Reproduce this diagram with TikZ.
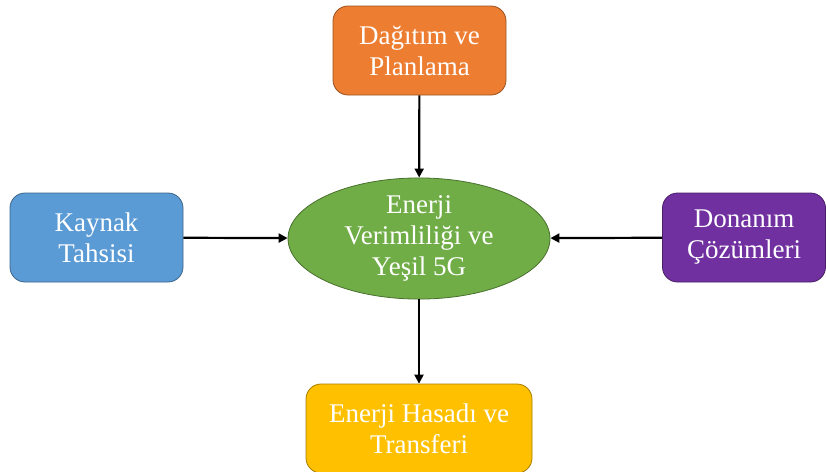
\documentclass[tikz,border=0pt]{standalone}
\usepackage{fontspec}
\setmainfont{Liberation Serif}
\usetikzlibrary{shapes.geometric,arrows.meta}
\definecolor{corange}{HTML}{ED7D31}
\definecolor{cgreen}{HTML}{70AD47}
\definecolor{cblue}{HTML}{5B9BD5}
\definecolor{cpurple}{HTML}{7030A0}
\definecolor{cgold}{HTML}{FFC000}
\tikzset{
  box/.style={rounded corners=15pt, draw=#1!65!black, fill=#1, line width=0.8pt,
    text=white, align=center, inner sep=0pt, minimum width=173pt, minimum height=89pt,
    font=\fontsize{27}{31}\selectfont},
  oval/.style={ellipse, draw=#1!65!black, fill=#1, line width=0.8pt,
    text=white, align=center, inner sep=0pt, minimum width=262pt, minimum height=117pt,
    font=\fontsize{27}{31}\selectfont},
  conn/.style={line width=2.2pt, -{Triangle[length=9pt,width=9pt]}}
}
\begin{document}
\begin{tikzpicture}[x=1pt,y=-1pt]
\useasboundingbox (0,0) rectangle (826,471);
\begin{scope}
\clip (0,0) rectangle (826,471);
\node[box=corange] (top) at (419.5,50.5) {Dağıtım ve\\Planlama};
\node[oval=cgreen] (mid) at (419,238.5) {Enerji\\Verimliliği ve\\Yeşil 5G};
\node[box=cblue] (left) at (96.5,237.5) {Kaynak\\Tahsisi};
\node[box=cpurple, minimum width=163pt] (right) at (744,237.5) {Donanım\\Çözümleri};
\node[box=cgold, minimum width=226pt] (bot) at (419,428.5) {Enerji Hasadı ve\\Transferi};
\end{scope}
\draw[conn] (top) -- (mid);
\draw[conn] (left) -- (mid);
\draw[conn] (right) -- (mid);
\draw[conn] (mid) -- (bot);
\end{tikzpicture}
\end{document}
